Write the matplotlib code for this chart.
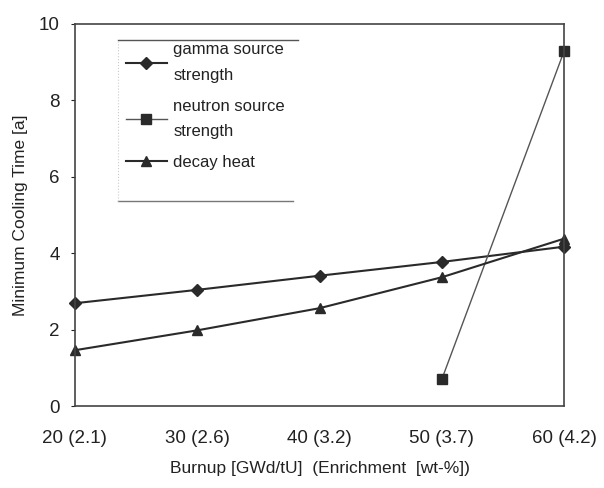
import matplotlib.pyplot as plt

plt.rcParams['font.family'] = ['Liberation Sans', 'DejaVu Sans']

burnup = [20, 30, 40, 50, 60]
tick_labels = ['20 (2.1)', '30 (2.6)', '40 (3.2)', '50 (3.7)', '60 (4.2)']

gamma = [2.69, 3.04, 3.41, 3.77, 4.17]
neutron_x = [50, 60]
neutron = [0.70, 9.29]
decay = [1.46, 1.98, 2.56, 3.37, 4.38]

fig = plt.figure(figsize=(6.04, 4.88), dpi=100)
ax = fig.add_axes([0.124, 0.168, 0.810, 0.783])

col = '#2a2a2a'
l1, = ax.plot(burnup, gamma, color=col, lw=1.5, marker='D', ms=6,
              clip_on=False, label='gamma source\nstrength')
l2, = ax.plot(neutron_x, neutron, color='#555555', lw=1.0, marker='s', ms=7,
              mfc=col, mec=col, clip_on=False, label='neutron source\nstrength')
l3, = ax.plot(burnup, decay, color=col, lw=1.5, marker='^', ms=7,
              clip_on=False, label='decay heat')

ax.set_xlim(20, 60)
ax.set_ylim(0, 10)
ax.set_xticks(burnup)
ax.set_xticklabels(tick_labels)
ax.set_yticks([0, 2, 4, 6, 8, 10])
ax.tick_params(axis='both', labelsize=13.5, colors='#222222', length=3,
               direction='out', pad=8)
ax.tick_params(axis='x', length=0, pad=17)

for s in ax.spines.values():
    s.set_color('#444444')
    s.set_linewidth(1.2)

ax.set_xlabel('Burnup [GWd/tU]  (Enrichment  [wt-%])', fontsize=12.5,
              color='#222222', labelpad=10)
ax.set_ylabel('Minimum Cooling Time [a]', fontsize=12.5, color='#222222',
              labelpad=8)

leg = ax.legend(handles=[l1, l2, l3], loc='upper left',
                bbox_to_anchor=(0.09, 0.970), frameon=False, fontsize=12,
                handlelength=2.5, labelspacing=0.95, handletextpad=0.35,
                borderaxespad=0)
for t in leg.get_texts():
    t.set_linespacing(1.9)
    t.set_color('#222222')

# horizontal rules above and below the legend
ax.plot([0.088, 0.456], [0.958, 0.958], transform=ax.transAxes,
        color='#555555', lw=1.0)
ax.plot([0.088, 0.445], [0.537, 0.537], transform=ax.transAxes,
        color='#777777', lw=1.0)
ax.plot([0.088, 0.088], [0.537, 0.958], transform=ax.transAxes,
        color='#cccccc', lw=0.8, ls=':')

fig.savefig('out.png', dpi=100)
